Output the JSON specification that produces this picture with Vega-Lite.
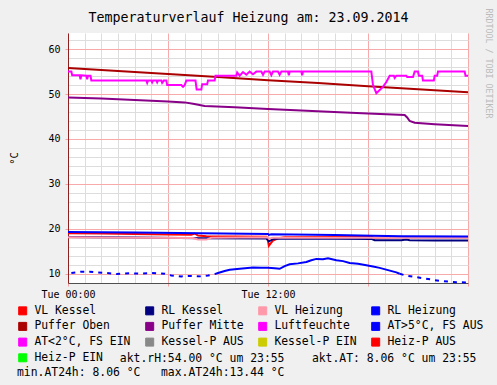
{
  "$schema": "https://vega.github.io/schema/vega-lite/v6.json",
  "width": 400,
  "height": 250,
  "autosize": {"type": "none"},
  "padding": {"left": 68, "top": 33, "right": 29, "bottom": 102},
  "background": "#F0F0F0",
  "config": {
    "view": {"fill": "#FFFFFF", "stroke": null},
    "font": "DejaVu Sans Mono",
    "axis": {"labelFont": "DejaVu Sans Mono", "titleFont": "DejaVu Sans Mono", "titleFontWeight": "normal", "labelColor": "#000000", "titleColor": "#000000"}
  },
  "data": {"values": [
    {"s":"VL Kessel","h":0,"v":19.0},{"s":"VL Kessel","h":2,"v":18.95},{"s":"VL Kessel","h":4,"v":18.85},{"s":"VL Kessel","h":6,"v":18.75},{"s":"VL Kessel","h":7.4,"v":18.7},{"s":"VL Kessel","h":7.6,"v":18.95},{"s":"VL Kessel","h":7.8,"v":18.5},{"s":"VL Kessel","h":8.3,"v":18.35},{"s":"VL Kessel","h":10,"v":18.3},{"s":"VL Kessel","h":11.9,"v":18.25},{"s":"VL Kessel","h":12.0,"v":17.3},{"s":"VL Kessel","h":12.05,"v":16.2},{"s":"VL Kessel","h":12.3,"v":17.4},{"s":"VL Kessel","h":12.6,"v":17.9},{"s":"VL Kessel","h":13,"v":18.1},{"s":"VL Kessel","h":16,"v":18.15},{"s":"VL Kessel","h":18.2,"v":18.2},{"s":"VL Kessel","h":18.4,"v":18.0},{"s":"VL Kessel","h":20,"v":18.1},{"s":"VL Kessel","h":22,"v":18.1},{"s":"VL Kessel","h":24,"v":18.1},
    {"s":"RL Kessel","h":0,"v":18.2},{"s":"RL Kessel","h":4,"v":18.05},{"s":"RL Kessel","h":8,"v":17.9},{"s":"RL Kessel","h":11.9,"v":17.85},{"s":"RL Kessel","h":12.0,"v":17.5},{"s":"RL Kessel","h":12.05,"v":17.2},{"s":"RL Kessel","h":12.3,"v":17.7},{"s":"RL Kessel","h":12.6,"v":17.85},{"s":"RL Kessel","h":16,"v":17.8},{"s":"RL Kessel","h":18.2,"v":17.75},{"s":"RL Kessel","h":18.4,"v":17.45},{"s":"RL Kessel","h":20,"v":17.45},{"s":"RL Kessel","h":20.3,"v":17.6},{"s":"RL Kessel","h":20.5,"v":17.45},{"s":"RL Kessel","h":22,"v":17.4},{"s":"RL Kessel","h":24,"v":17.4},
    {"s":"VL Heizung","h":0,"v":18.1},{"s":"VL Heizung","h":4,"v":18.0},{"s":"VL Heizung","h":7.5,"v":17.95},{"s":"VL Heizung","h":7.8,"v":17.6},{"s":"VL Heizung","h":8.3,"v":17.6},{"s":"VL Heizung","h":8.6,"v":18.0},{"s":"VL Heizung","h":12,"v":18.1},{"s":"VL Heizung","h":12.05,"v":17.8},{"s":"VL Heizung","h":12.3,"v":18.0},{"s":"VL Heizung","h":24,"v":18.0},
    {"s":"RL Heizung","h":0,"v":19.3},{"s":"RL Heizung","h":4,"v":19.15},{"s":"RL Heizung","h":8,"v":19.0},{"s":"RL Heizung","h":12,"v":18.85},{"s":"RL Heizung","h":12.05,"v":18.65},{"s":"RL Heizung","h":12.2,"v":18.8},{"s":"RL Heizung","h":16,"v":18.6},{"s":"RL Heizung","h":18.3,"v":18.45},{"s":"RL Heizung","h":20,"v":18.35},{"s":"RL Heizung","h":24,"v":18.3},
    {"s":"Puffer Oben","h":0,"v":55.8},{"s":"Puffer Oben","h":3,"v":55.15},{"s":"Puffer Oben","h":6,"v":54.45},{"s":"Puffer Oben","h":9,"v":53.8},{"s":"Puffer Oben","h":12,"v":53.1},{"s":"Puffer Oben","h":15,"v":52.45},{"s":"Puffer Oben","h":18,"v":51.75},{"s":"Puffer Oben","h":21,"v":51.1},{"s":"Puffer Oben","h":24,"v":50.4},
    {"s":"Puffer Mitte","h":0,"v":49.25},{"s":"Puffer Mitte","h":2,"v":49.0},{"s":"Puffer Mitte","h":4,"v":48.7},{"s":"Puffer Mitte","h":6,"v":48.35},{"s":"Puffer Mitte","h":7,"v":48.15},{"s":"Puffer Mitte","h":7.5,"v":47.85},{"s":"Puffer Mitte","h":8.2,"v":47.35},{"s":"Puffer Mitte","h":10,"v":47.05},{"s":"Puffer Mitte","h":12,"v":46.7},{"s":"Puffer Mitte","h":14,"v":46.35},{"s":"Puffer Mitte","h":16.3,"v":45.95},{"s":"Puffer Mitte","h":18,"v":45.7},{"s":"Puffer Mitte","h":20.2,"v":45.35},{"s":"Puffer Mitte","h":20.35,"v":44.8},{"s":"Puffer Mitte","h":20.5,"v":44.0},{"s":"Puffer Mitte","h":20.8,"v":43.6},{"s":"Puffer Mitte","h":22,"v":43.3},{"s":"Puffer Mitte","h":24,"v":42.9},
    {"s":"Luftfeuchte","h":0,"v":55},{"s":"Luftfeuchte","h":0.2,"v":55},{"s":"Luftfeuchte","h":0.25,"v":54.2},{"s":"Luftfeuchte","h":0.7,"v":54.2},{"s":"Luftfeuchte","h":0.75,"v":53.3},{"s":"Luftfeuchte","h":0.8,"v":54.2},{"s":"Luftfeuchte","h":1.1,"v":54.1},{"s":"Luftfeuchte","h":1.15,"v":53.3},{"s":"Luftfeuchte","h":1.2,"v":54.1},{"s":"Luftfeuchte","h":1.35,"v":54.1},{"s":"Luftfeuchte","h":1.4,"v":53},{"s":"Luftfeuchte","h":4.7,"v":53},{"s":"Luftfeuchte","h":4.75,"v":52.5},{"s":"Luftfeuchte","h":4.8,"v":53},{"s":"Luftfeuchte","h":5.0,"v":53},{"s":"Luftfeuchte","h":5.05,"v":52.6},{"s":"Luftfeuchte","h":5.1,"v":53},{"s":"Luftfeuchte","h":5.3,"v":53},{"s":"Luftfeuchte","h":5.35,"v":52.6},{"s":"Luftfeuchte","h":5.4,"v":53},{"s":"Luftfeuchte","h":5.6,"v":53},{"s":"Luftfeuchte","h":5.65,"v":52.5},{"s":"Luftfeuchte","h":5.75,"v":53},{"s":"Luftfeuchte","h":5.9,"v":53},{"s":"Luftfeuchte","h":5.95,"v":52},{"s":"Luftfeuchte","h":6.8,"v":52},{"s":"Luftfeuchte","h":6.9,"v":51.6},{"s":"Luftfeuchte","h":7.0,"v":52},{"s":"Luftfeuchte","h":7.1,"v":53},{"s":"Luftfeuchte","h":7.65,"v":53},{"s":"Luftfeuchte","h":7.72,"v":51},{"s":"Luftfeuchte","h":8.0,"v":51},{"s":"Luftfeuchte","h":8.05,"v":52.2},{"s":"Luftfeuchte","h":8.35,"v":52.2},{"s":"Luftfeuchte","h":8.4,"v":53},{"s":"Luftfeuchte","h":8.8,"v":53},{"s":"Luftfeuchte","h":8.85,"v":54.1},{"s":"Luftfeuchte","h":10.1,"v":54.1},{"s":"Luftfeuchte","h":10.15,"v":54.8},{"s":"Luftfeuchte","h":10.3,"v":54.1},{"s":"Luftfeuchte","h":10.5,"v":54.9},{"s":"Luftfeuchte","h":10.7,"v":54.3},{"s":"Luftfeuchte","h":10.9,"v":55},{"s":"Luftfeuchte","h":11.1,"v":54.4},{"s":"Luftfeuchte","h":11.3,"v":55},{"s":"Luftfeuchte","h":11.6,"v":55},{"s":"Luftfeuchte","h":11.7,"v":54.3},{"s":"Luftfeuchte","h":11.8,"v":55},{"s":"Luftfeuchte","h":12.1,"v":55},{"s":"Luftfeuchte","h":12.2,"v":54.2},{"s":"Luftfeuchte","h":12.3,"v":55},{"s":"Luftfeuchte","h":12.6,"v":55},{"s":"Luftfeuchte","h":12.7,"v":54.3},{"s":"Luftfeuchte","h":12.8,"v":55},{"s":"Luftfeuchte","h":13.2,"v":55},{"s":"Luftfeuchte","h":13.25,"v":54.2},{"s":"Luftfeuchte","h":13.3,"v":55},{"s":"Luftfeuchte","h":14.0,"v":55},{"s":"Luftfeuchte","h":14.05,"v":54.2},{"s":"Luftfeuchte","h":14.1,"v":55},{"s":"Luftfeuchte","h":18.2,"v":55},{"s":"Luftfeuchte","h":18.3,"v":52},{"s":"Luftfeuchte","h":18.5,"v":50.2},{"s":"Luftfeuchte","h":18.7,"v":50.9},{"s":"Luftfeuchte","h":18.9,"v":51.6},{"s":"Luftfeuchte","h":19.1,"v":52.7},{"s":"Luftfeuchte","h":19.3,"v":54.1},{"s":"Luftfeuchte","h":19.55,"v":54.1},{"s":"Luftfeuchte","h":19.6,"v":53.6},{"s":"Luftfeuchte","h":19.7,"v":54.1},{"s":"Luftfeuchte","h":20.3,"v":54.1},{"s":"Luftfeuchte","h":20.35,"v":53.8},{"s":"Luftfeuchte","h":20.7,"v":53.8},{"s":"Luftfeuchte","h":20.8,"v":55},{"s":"Luftfeuchte","h":21.0,"v":55},{"s":"Luftfeuchte","h":21.05,"v":54.1},{"s":"Luftfeuchte","h":21.25,"v":54.1},{"s":"Luftfeuchte","h":21.3,"v":53.0},{"s":"Luftfeuchte","h":21.95,"v":53.0},{"s":"Luftfeuchte","h":22.0,"v":54.1},{"s":"Luftfeuchte","h":22.15,"v":54.1},{"s":"Luftfeuchte","h":22.2,"v":55},{"s":"Luftfeuchte","h":23.8,"v":55},{"s":"Luftfeuchte","h":23.85,"v":54.1},{"s":"Luftfeuchte","h":24,"v":54.1},
    {"s":"AT>5°C, FS AUS","seg":"a","h":0.2,"v":10.15},{"s":"AT>5°C, FS AUS","seg":"a","h":0.8,"v":10.45},{"s":"AT>5°C, FS AUS","seg":"a","h":1.3,"v":10.45},{"s":"AT>5°C, FS AUS","seg":"a","h":1.75,"v":10.3},{"s":"AT>5°C, FS AUS","seg":"a","h":2.2,"v":10.2},{"s":"AT>5°C, FS AUS","seg":"a","h":2.9,"v":9.95},{"s":"AT>5°C, FS AUS","seg":"a","h":3.8,"v":10.1},{"s":"AT>5°C, FS AUS","seg":"a","h":4.3,"v":10.0},{"s":"AT>5°C, FS AUS","seg":"a","h":5.0,"v":10.15},{"s":"AT>5°C, FS AUS","seg":"a","h":5.8,"v":10.0},{"s":"AT>5°C, FS AUS","seg":"a","h":6.2,"v":9.6},{"s":"AT>5°C, FS AUS","seg":"a","h":6.8,"v":9.4},{"s":"AT>5°C, FS AUS","seg":"a","h":7.4,"v":9.5},{"s":"AT>5°C, FS AUS","seg":"a","h":8.0,"v":9.4},{"s":"AT>5°C, FS AUS","seg":"a","h":8.4,"v":9.6},{"s":"AT>5°C, FS AUS","seg":"a","h":8.8,"v":9.9},
    {"s":"AT>5°C, FS AUS","seg":"b","h":8.8,"v":9.9},{"s":"AT>5°C, FS AUS","seg":"b","h":9.0,"v":10.15},{"s":"AT>5°C, FS AUS","seg":"b","h":9.4,"v":10.6},{"s":"AT>5°C, FS AUS","seg":"b","h":9.7,"v":10.9},{"s":"AT>5°C, FS AUS","seg":"b","h":10.3,"v":11.1},{"s":"AT>5°C, FS AUS","seg":"b","h":11.1,"v":11.4},{"s":"AT>5°C, FS AUS","seg":"b","h":11.6,"v":11.3},{"s":"AT>5°C, FS AUS","seg":"b","h":12,"v":11.3},{"s":"AT>5°C, FS AUS","seg":"b","h":12.4,"v":11.2},{"s":"AT>5°C, FS AUS","seg":"b","h":12.7,"v":11.1},{"s":"AT>5°C, FS AUS","seg":"b","h":13.0,"v":11.7},{"s":"AT>5°C, FS AUS","seg":"b","h":13.3,"v":12.1},{"s":"AT>5°C, FS AUS","seg":"b","h":13.8,"v":12.3},{"s":"AT>5°C, FS AUS","seg":"b","h":14.3,"v":12.6},{"s":"AT>5°C, FS AUS","seg":"b","h":14.6,"v":13.0},{"s":"AT>5°C, FS AUS","seg":"b","h":14.9,"v":13.3},{"s":"AT>5°C, FS AUS","seg":"b","h":15.3,"v":13.2},{"s":"AT>5°C, FS AUS","seg":"b","h":15.6,"v":13.44},{"s":"AT>5°C, FS AUS","seg":"b","h":16.1,"v":13.0},{"s":"AT>5°C, FS AUS","seg":"b","h":16.5,"v":12.8},{"s":"AT>5°C, FS AUS","seg":"b","h":16.9,"v":12.4},{"s":"AT>5°C, FS AUS","seg":"b","h":17.4,"v":12.2},{"s":"AT>5°C, FS AUS","seg":"b","h":17.9,"v":11.9},{"s":"AT>5°C, FS AUS","seg":"b","h":18.3,"v":11.6},{"s":"AT>5°C, FS AUS","seg":"b","h":18.7,"v":11.3},{"s":"AT>5°C, FS AUS","seg":"b","h":19.2,"v":10.8},{"s":"AT>5°C, FS AUS","seg":"b","h":19.7,"v":10.3},{"s":"AT>5°C, FS AUS","seg":"b","h":19.9,"v":10.0},
    {"s":"AT>5°C, FS AUS","seg":"c","h":19.9,"v":10.0},{"s":"AT>5°C, FS AUS","seg":"c","h":20.3,"v":9.55},{"s":"AT>5°C, FS AUS","seg":"c","h":20.8,"v":9.3},{"s":"AT>5°C, FS AUS","seg":"c","h":21.3,"v":9.0},{"s":"AT>5°C, FS AUS","seg":"c","h":21.8,"v":8.7},{"s":"AT>5°C, FS AUS","seg":"c","h":22.3,"v":8.4},{"s":"AT>5°C, FS AUS","seg":"c","h":22.8,"v":8.25},{"s":"AT>5°C, FS AUS","seg":"c","h":23.3,"v":8.1},{"s":"AT>5°C, FS AUS","seg":"c","h":23.9,"v":8.06}
  ]},
  "layer": [
    {
      "encoding": {
        "x": {"field": "h", "type": "quantitative",
          "scale": {"domain": [0, 24], "nice": false, "zero": false},
          "axis": {"orient": "bottom", "title": null,
            "values": [0,1,2,3,4,5,6,7,8,9,10,11,12,13,14,15,16,17,18,19,20,21,22,23,24],
            "labelExpr": "datum.value === 0 ? 'Tue 00:00' : (datum.value === 12 ? 'Tue 12:00' : '')",
            "labelFontSize": 10, "labelPadding": 3, "labelFlush": false, "labelOverlap": false, "labelBound": false,
            "tickSize": 3,
            "tickColor": {"condition": {"test": "datum.value % 6 === 0", "value": "#F5A0A0"}, "value": "transparent"},
            "grid": true,
            "gridColor": {"condition": {"test": "datum.value % 6 === 0", "value": "#F7AAAA"}, "value": "#DDDDDD"},
            "domainColor": "#505050"}},
        "y": {"field": "v", "type": "quantitative",
          "scale": {"domain": [7.93, 63.6], "nice": false, "zero": false},
          "axis": {"orient": "left", "title": "°C",
            "values": [10,12,14,16,18,20,22,24,26,28,30,32,34,36,38,40,42,44,46,48,50,52,54,56,58,60,62],
            "labelExpr": "datum.value % 10 === 0 ? datum.label : ''",
            "labelFontSize": 10, "labelPadding": 5, "labelOverlap": false,
            "tickSize": 3,
            "tickColor": {"condition": {"test": "datum.value % 10 === 0", "value": "#F5A0A0"}, "value": "transparent"},
            "grid": true,
            "gridColor": {"condition": {"test": "datum.value % 10 === 0", "value": "#F7AAAA"}, "value": "#DDDDDD"},
            "domainColor": "#902020",
            "titleAngle": -90, "titleX": -54, "titleY": 125, "titleAlign": "center", "titleBaseline": "middle", "titleFontSize": 10.5}},
        "color": {"field": "s", "type": "nominal",
          "scale": {
            "domain": ["VL Kessel","RL Kessel","VL Heizung","RL Heizung","Puffer Oben","Puffer Mitte","Luftfeuchte","AT>5°C, FS AUS","AT<2°C, FS EIN","Kessel-P AUS","Kessel-P EIN","Heiz-P AUS","Heiz-P EIN"],
            "range": ["#FF0000","#000080","#FF99AA","#0000FF","#AA0000","#880088","#FF00FF","#0000FF","#FF00FF","#888888","#CCCC00","#FF0000","#00FF00"]},
          "legend": {
            "orient": "none", "legendX": -51, "legendY": 272, "direction": "horizontal",
            "columns": 4, "columnPadding": 12, "rowPadding": 2.7, "padding": 0,
            "symbolType": "square", "symbolSize": 64, "symbolStrokeWidth": 1,
            "labelFont": "DejaVu Sans Mono", "labelFontSize": 11.4, "labelColor": "#000000", "labelOffset": 6, "labelLimit": 300,
            "title": ["\u200b\u00a0\u00a0\u00a0\u00a0\u00a0\u00a0\u00a0\u00a0\u00a0\u00a0\u00a0\u00a0\u00a0\u00a0\u00a0akt.rH:54.00 °C um 23:55\u00a0\u00a0\u00a0\u00a0akt.AT: 8.06 °C um 23:55", "min.AT24h: 8.06 °C\u00a0\u00a0\u00a0max.AT24h:13.44 °C"],
            "titleOrient": "bottom", "titleAnchor": "start", "titleAlign": "left", "titleBaseline": "top",
            "titleFont": "DejaVu Sans Mono", "titleFontSize": 11.4, "titleFontWeight": "normal", "titleColor": "#000000",
            "titlePadding": -11, "titleLimit": 600, "titleLineHeight": 14,
            "encode": {"symbols": {"update": {
              "fill": {"scale": "color", "field": "value"},
              "stroke": {"value": "#000000"},
              "strokeWidth": {"value": 1},
              "opacity": {"value": 1}}}}}}
      },
      "layer": [
        {"transform": [{"filter": "!datum.seg && datum.s !== 'Puffer Mitte'"}],
         "mark": {"type": "line", "strokeWidth": 2}},
        {"transform": [{"filter": "datum.seg === 'b'"}],
         "mark": {"type": "line", "strokeWidth": 2}},
        {"transform": [{"filter": "datum.seg === 'a' || datum.seg === 'c'"}],
         "mark": {"type": "line", "strokeWidth": 2, "strokeDash": [4, 5]},
         "encoding": {"detail": {"field": "seg"}}}
      ]
    },
    {
      "transform": [{"filter": "datum.s === 'Puffer Mitte'"}],
      "mark": {"type": "line", "strokeWidth": 2},
      "encoding": {
        "x": {"field": "h", "type": "quantitative",
          "scale": {"domain": [0, 24], "nice": false, "zero": false},
          "axis": {"orient": "top", "title": "Temperaturverlauf Heizung am: 23.09.2014",
            "labels": false, "ticks": false, "domain": false, "grid": false,
            "titleFontSize": 13.3, "titleFontWeight": "normal", "titleColor": "#000000",
            "titleX": 180, "titleY": -12, "titleAlign": "center", "titleBaseline": "alphabetic"}},
        "y": {"field": "v", "type": "quantitative",
          "scale": {"domain": [7.93, 63.6], "nice": false, "zero": false},
          "axis": {"orient": "right", "title": "RRDTOOL / TOBI OETIKER",
            "labels": false, "ticks": false, "domain": false, "grid": false,
            "titleAngle": 90, "titleAlign": "left", "titleBaseline": "middle",
            "titleX": 19, "titleY": -25, "titleFontSize": 8.3, "titleFontWeight": "normal", "titleColor": "#BBBBBB"}},
        "color": {"field": "s", "type": "nominal", "legend": null}
      }
    }
  ],
  "resolve": {"axis": {"x": "independent", "y": "independent"}}
}
